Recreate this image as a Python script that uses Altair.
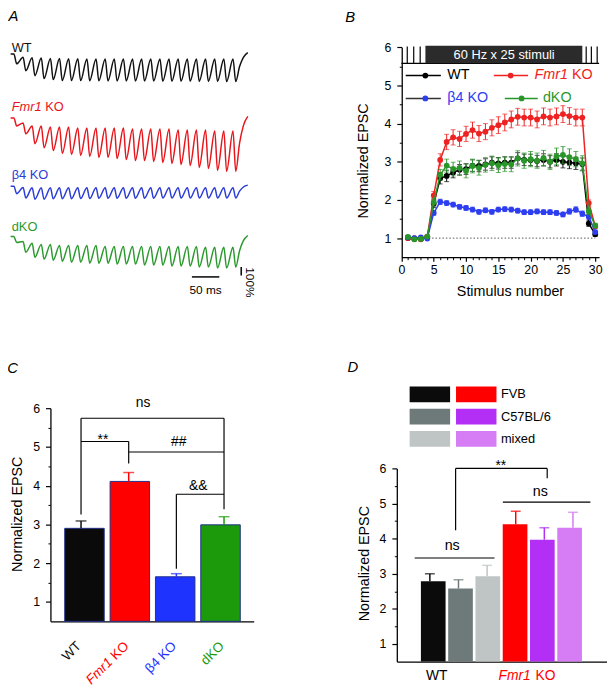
import altair as alt
import pandas as pd

W, H = 599, 671
FONT = "Liberation Sans"

# ================= Panel A : example EPSC trains (depth, % of first EPSC) =================
a_names = ["WT", "Fmr1 KO", "β4 KO", "dKO"]
a_colors = ["#111111", "#e8161c", "#2c3cd6", "#2b9a2e"]
a_stim_ms = [0, 16.7, 33.3, 50, 66.7, 83.3, 100, 116.7, 133.3, 150, 166.7, 183.3,
             200, 216.7, 233.3, 250, 266.7, 283.3, 300, 316.7, 333.3, 350, 366.7, 383.3, 400]
a_tail_ms = [412, 419, 427]
wt_peak = [0, 40, 45, 50, 55, 55, 58, 58, 60, 60, 60, 60, 60, 60, 60, 60, 60, 60, 60, 60, 60, 60, 60, 60, 60]
wt_trough = [118, 200, 259, 294, 306, 318, 318, 318, 320, 320, 322, 322, 322, 324, 324, 324, 326, 326,
             326, 326, 328, 328, 328, 330, 330]
wt_tail = [150, 40, -15]
fmr_peak = [0, 59, 94, 94, 106, 106, 106, 118, 118, 118, 118, 118, 118, 129, 129, 129, 129, 129,
            141, 141, 141, 141, 153, 153, 153]
fmr_trough = [94, 188, 306, 353, 388, 423, 435, 447, 459, 470, 470, 482, 494, 506, 506, 517, 529, 541,
              553, 565, 588, 600, 623, 635, 635]
fmr_tail = [300, 90, -20]
b4_peak = [0, 15, 20, 20, 20, 20, 20, 20, 20, 20, 20, 20, 20, 20, 20, 20, 20, 20, 20, 20, 20, 20, 20, 20, 20]
b4_trough = [90, 140, 155, 155, 150, 150, 150, 148, 148, 145, 145, 145, 145, 145, 145, 145, 142, 142,
             142, 142, 142, 142, 142, 142, 142]
b4_tail = [60, 10, -12]
dko_peak = [0, 59, 82, 94, 94, 106, 106, 106, 106, 106, 118, 118, 118, 118, 118, 118, 118, 118,
            118, 118, 118, 129, 129, 129, 129]
dko_trough = [71, 188, 247, 270, 282, 294, 306, 306, 318, 318, 318, 329, 329, 329, 341, 341, 341, 353,
              353, 353, 365, 365, 376, 376, 365]
dko_tail = [170, 50, -12]
a_label_v = [-20, -82, -82, -70]

# ================= Panel B : normalized EPSC vs stimulus number =================
b_names = ["WT", "Fmr1 KO", "β4 KO", "dKO"]
b_colors = ["#000000", "#ee2222", "#2d3df0", "#2a962a"]
b_stim = list(range(1, 31))
b_wt = [1.00, 0.98, 0.98, 1.02, 1.90, 2.57, 2.63, 2.72, 2.79, 2.81, 2.90, 2.89, 2.93, 2.98, 2.96,
        2.98, 2.98, 3.09, 3.05, 3.05, 3.02, 3.05, 3.00, 3.05, 3.00, 2.98, 2.96, 2.94, 1.38, 1.10]
b_wt_err = [0.03, 0.03, 0.03, 0.03, 0.10, 0.15, 0.15, 0.14, 0.14, 0.14, 0.15, 0.15, 0.15, 0.15, 0.15,
            0.15, 0.15, 0.15, 0.15, 0.15, 0.15, 0.16, 0.16, 0.16, 0.16, 0.16, 0.16, 0.16, 0.07, 0.05]
b_fmr = [1.00, 1.00, 0.97, 1.04, 2.12, 3.05, 3.52, 3.64, 3.60, 3.73, 3.83, 3.74, 3.79, 3.89, 3.96,
         4.03, 4.11, 4.18, 4.16, 4.16, 4.11, 4.19, 4.16, 4.19, 4.25, 4.20, 4.16, 4.16, 1.92, 1.31]
b_fmr_err = [0.03, 0.03, 0.03, 0.04, 0.10, 0.16, 0.20, 0.20, 0.20, 0.20, 0.21, 0.21, 0.21, 0.21, 0.22,
             0.22, 0.22, 0.22, 0.22, 0.22, 0.22, 0.22, 0.22, 0.22, 0.22, 0.22, 0.22, 0.22, 0.08, 0.06]
b_b4 = [1.02, 1.00, 1.02, 0.99, 1.66, 1.95, 1.92, 1.88, 1.82, 1.79, 1.75, 1.69, 1.73, 1.69, 1.75,
        1.76, 1.75, 1.72, 1.68, 1.68, 1.70, 1.68, 1.68, 1.66, 1.62, 1.70, 1.75, 1.64, 1.56, 1.16]
b_b4_err = [0.03, 0.03, 0.03, 0.03, 0.06, 0.07, 0.06, 0.06, 0.06, 0.06, 0.06, 0.06, 0.06, 0.06, 0.06,
            0.06, 0.06, 0.06, 0.06, 0.06, 0.06, 0.06, 0.06, 0.06, 0.06, 0.07, 0.07, 0.07, 0.06, 0.05]
b_dko = [1.03, 0.97, 0.98, 1.04, 1.94, 2.66, 2.90, 2.81, 2.84, 2.76, 2.89, 2.84, 2.92, 2.96, 2.91,
         2.94, 2.93, 3.09, 3.03, 3.07, 3.03, 3.10, 3.00, 3.14, 3.18, 3.12, 3.07, 2.96, 1.70, 1.33]
b_dko_err = [0.03, 0.03, 0.03, 0.03, 0.10, 0.14, 0.17, 0.18, 0.18, 0.18, 0.18, 0.19, 0.19, 0.19, 0.19,
             0.19, 0.19, 0.20, 0.20, 0.20, 0.20, 0.20, 0.20, 0.22, 0.22, 0.22, 0.20, 0.20, 0.08, 0.06]
b_train_label = "60 Hz x 25 stimuli"
b_train_x = [3.71, 28.0]
b_pulse_x = [0.9, 1.9, 2.9, 28.6, 29.4, 30.3]
b_leg_x1 = [0.66, 14.3, 0.66, 16.0]
b_leg_x2 = [6.1, 19.6, 6.1, 21.1]
b_leg_xm = [3.7, 16.9, 3.7, 18.6]
b_leg_xt = [7.1, 20.6, 7.1, 21.9]
b_leg_y = [5.26, 5.26, 4.66, 4.66]
b_leg_line = ["#000000", "#ee2222", "#333333", "#2a962a"]

# ================= Panel C : summary bars =================
c_groups = ["WT", "Fmr1 KO", "β4 KO", "dKO"]
c_mean = [2.90, 4.11, 1.65, 2.99]
c_err = [0.19, 0.23, 0.08, 0.21]
c_colors = ["#0a0a0a", "#ff0000", "#1f33ff", "#1c9a0c"]
c_seg_x1 = [0, 0, 3, 0, 1, 1, 2, 2]
c_seg_y1 = [3.26, 5.74, 5.74, 5.14, 5.14, 4.87, 3.78, 3.78]
c_seg_x2 = [0, 3, 3, 1, 1, 3, 3, 2]
c_seg_y2 = [5.74, 5.74, 3.39, 5.14, 4.57, 4.87, 3.78, 1.86]
c_sig_text = ["ns", "##", "&&"]
c_sig_x = [1.30, 2.05, 2.46]
c_sig_y = [6.13, 5.13, 3.99]
c_star_x, c_star_y = 0.46, 5.29

# ================= Panel D : strain comparison =================
d_strains = ["FVB", "C57BL/6", "mixed"]
d_geno = ["WT", "WT", "WT", "Fmr1 KO", "Fmr1 KO", "Fmr1 KO"]
d_keys = ["WT FVB", "WT C57BL/6", "WT mixed", "KO FVB", "KO C57BL/6", "KO mixed"]
d_mean = [2.79, 2.58, 2.93, 4.41, 3.97, 4.31]
d_err = [0.21, 0.25, 0.31, 0.37, 0.34, 0.44]
d_colors = ["#0b0b0b", "#6e7a79", "#bfc5c4", "#ff0000", "#b42ff5", "#d67cf4"]
d_seg_x1 = [-0.53, 2.55, 0.9, 0.9, 4.1]
d_seg_y1 = [3.45, 5.04, 4.24, 6.0, 6.0]
d_seg_x2 = [2.26, 5.61, 0.9, 4.1, 4.1]
d_seg_y2 = [3.45, 5.04, 6.0, 6.0, 5.72]
d_ns_x = [0.78, 3.86]
d_ns_y = [3.80, 5.33]
d_star_x, d_star_y = 2.48, 6.17


# ----------------------------------------------------------------------------
def S(domain, rng, **kw):
    return alt.Scale(domain=domain, range=rng, zero=False, nice=False, **kw)


AX = S([-10, 440], [0.45, 250.2])
a_base = [42, 107, 176, 227]
AY = [S([0, 700], [b, b + 59.5]) for b in a_base]
BX = S([0, 30.6], [398.7, 599.0])
BY = S([0.5, 6.0], [248.0, 35.3])
CX = S([-0.642, 3.623], [43, 249])
CY = S([0.5, 6.0], [617, 401])
DX = S([-1.155, 6.19], [394, 607])
DY = S([0.5, 6.0], [657.8, 462])

AXIS_COMMON = dict(domainColor="black", tickColor="black", labelColor="black", grid=False,
                   labelFont=FONT, titleFont=FONT, titleColor="black", titleFontWeight="normal",
                   labelFlush=False, domainWidth=1.3, tickWidth=1.2)


def y_major(offset, title, tx, ty):
    return alt.Axis(orient="left", offset=offset, values=[1, 2, 3, 4, 5, 6], tickSize=5,
                    labelFontSize=12.5, labelPadding=6, title=title, titleFontSize=14.5,
                    titleX=tx, titleY=ty, titleAngle=270, titleBaseline="middle", titleAlign="center",
                    **AXIS_COMMON)


def y_minor(offset):
    return alt.Axis(orient="left", offset=offset, values=[1.5, 2.5, 3.5, 4.5, 5.5], tickSize=2.5,
                    labels=False, domain=False, title=None, ticks=True, tickColor="black", grid=False,
                    tickWidth=1)


def x_domain_only(offset):
    return alt.Axis(orient="bottom", offset=offset, labels=False, ticks=False, title=None,
                    grid=False, domainColor="black", domainWidth=1.3)


def q(field, scale, axis=None):
    return dict(field=field, type="quantitative", scale=scale, axis=axis)


def xq(field, scale, axis=None):
    return alt.X(**q(field, scale, axis))


def yq(field, scale, axis=None):
    return alt.Y(**q(field, scale, axis))


def segs(x1, y1, x2, y2, sx, sy, color="black", width=1.2):
    df = pd.DataFrame({"x": x1, "y": y1, "x2": x2, "y2": y2})
    return alt.Chart(df).mark_rule(color=color, strokeWidth=width).encode(
        x=xq("x", sx), x2="x2:Q", y=yq("y", sy), y2="y2:Q")


def texts(xs, ys, ts, sx, sy, **mk):
    df = pd.DataFrame({"x": xs, "y": ys, "t": ts})
    return alt.Chart(df).mark_text(font=FONT, **mk).encode(
        x=xq("x", sx), y=yq("y", sy), text="t:N")


layers = []

# ---------------- Panel A ----------------
a_sets = [(wt_peak, wt_trough, wt_tail), (fmr_peak, fmr_trough, fmr_tail),
          (b4_peak, b4_trough, b4_tail), (dko_peak, dko_trough, dko_tail)]
for k, (pk, tr, tl) in enumerate(a_sets):
    ts, vs = [-6], [0]
    for s, p, t in zip(a_stim_ms, pk, tr):
        ts += [s, s + 5]
        vs += [p, t]
    ts += a_tail_ms
    vs += tl
    df = pd.DataFrame({"t": ts, "v": vs, "o": list(range(len(ts)))})
    layers.append(alt.Chart(df).mark_line(color=a_colors[k], strokeWidth=1.5, interpolate="monotone").encode(
        x=xq("t", AX), y=yq("v", AY[k]), order="o:Q"))

for k in [0, 2, 3]:
    layers.append(texts([-4], [a_label_v[k]], [a_names[k]], AX, AY[k], fontSize=13,
                        color=a_colors[k], align="left", baseline="alphabetic"))
layers.append(texts([-4], [a_label_v[1]], ["Fmr1"], AX, AY[1], fontSize=13, fontStyle="italic",
                    color=a_colors[1], align="left", baseline="alphabetic"))
layers.append(texts([-4], [a_label_v[1]], ["KO"], AX, AY[1], fontSize=13, dx=34,
                    color=a_colors[1], align="left", baseline="alphabetic"))
# scale bars (50 ms, 100 %)
layers.append(segs([325], [482], [375], [482], AX, AY[3], width=1.5))
layers.append(segs([415], [365], [415], [465], AX, AY[3], width=1.5))
layers.append(texts([350], [682], ["50 ms"], AX, AY[3], fontSize=12, color="black",
                    align="center", baseline="alphabetic"))
layers.append(texts([431], [547], ["100%"], AX, AY[3], fontSize=12, color="black",
                    align="center", baseline="middle", angle=90))
layers.append(texts([-10], [-390], ["A"], AX, AY[0], fontSize=15, fontStyle="italic",
                    color="black", align="left", baseline="alphabetic"))

# ---------------- Panel B ----------------
# stimulation train header
layers.append(segs([0], [5.58], [30.6], [5.58], BX, BY, width=1.2))
layers.append(segs(b_pulse_x, [5.58] * 6, b_pulse_x, [6.02] * 6, BX, BY, width=1.2))
layers.append(alt.Chart(pd.DataFrame({"x": [b_train_x[0]], "x2": [b_train_x[1]], "y": [5.58], "y2": [6.04]}))
              .mark_rect(color="#2b2b2b").encode(x=xq("x", BX), x2="x2:Q", y=yq("y", BY), y2="y2:Q"))
layers.append(texts([15.9], [5.81], [b_train_label], BX, BY, fontSize=13, color="white",
                    align="center", baseline="middle"))
# baseline at 1
layers.append(alt.Chart(pd.DataFrame({"x": [1], "x2": [30], "y": [1.0]})).mark_rule(
    color="#444444", strokeWidth=0.9, strokeDash=[1.5, 2]).encode(x=xq("x", BX), x2="x2:Q", y=yq("y", BY)))

b_series = [(b_wt, b_wt_err), (b_fmr, b_fmr_err), (b_b4, b_b4_err), (b_dko, b_dko_err)]
for k, (m, e) in enumerate(b_series):
    df = pd.DataFrame({"x": b_stim, "m": m, "lo": [a - b for a, b in zip(m, e)],
                       "hi": [a + b for a, b in zip(m, e)]})
    c = b_colors[k]
    if k == 0:
        ax_x = alt.Axis(orient="bottom", offset=-423, values=[0, 5, 10, 15, 20, 25, 30], tickSize=4,
                        labelFontSize=12.5, labelPadding=3, title="Stimulus number", titleFontSize=14.5,
                        titleX=508.7, titleY=39, titleBaseline="alphabetic", titleAlign="center",
                        titleAngle=0, **AXIS_COMMON)
        ax_y = y_major(-399, "Normalized EPSC", -38.5, 150)
        ax_x2 = alt.Axis(orient="bottom", offset=-423, values=[k2 for k2 in range(1, 31) if k2 % 5],
                         tickSize=2.5, labels=False, domain=False, title=None, grid=False,
                         tickColor="black", tickWidth=1)
        ax_y2 = y_minor(-399)
    else:
        ax_x = ax_y = ax_x2 = ax_y2 = None
    layers.append(alt.Chart(df).mark_rule(color=c, strokeWidth=1).encode(
        x=xq("x", BX, ax_x2), y=yq("lo", BY, ax_y2), y2="hi:Q"))
    layers.append(alt.Chart(df).transform_fold(["lo", "hi"], as_=["kk", "vv"]).mark_tick(
        orient="horizontal", size=5, thickness=1, color=c).encode(x=xq("x", BX), y=yq("vv", BY)))
    layers.append(alt.Chart(df).mark_line(color=c, strokeWidth=1.5).encode(
        x=xq("x", BX), y=yq("m", BY)))
    layers.append(alt.Chart(df).mark_circle(color=c, size=34, opacity=1).encode(
        x=xq("x", BX, ax_x), y=yq("m", BY, ax_y)))

# legend of panel B
for k in range(4):
    layers.append(segs([b_leg_x1[k]], [b_leg_y[k]], [b_leg_x2[k]], [b_leg_y[k]], BX, BY,
                       color=b_leg_line[k], width=1.5))
    layers.append(alt.Chart(pd.DataFrame({"x": [b_leg_xm[k]], "y": [b_leg_y[k]]})).mark_circle(
        color=b_colors[k], size=34, opacity=1).encode(x=xq("x", BX), y=yq("y", BY)))
for k in [0, 2, 3]:
    layers.append(texts([b_leg_xt[k]], [b_leg_y[k]], [b_names[k]], BX, BY, fontSize=14.5,
                        color=b_colors[k], align="left", baseline="middle"))
layers.append(texts([b_leg_xt[1]], [b_leg_y[1]], ["Fmr1"], BX, BY, fontSize=14.5, fontStyle="italic",
                    color=b_colors[1], align="left", baseline="middle"))
layers.append(texts([b_leg_xt[1]], [b_leg_y[1]], ["KO"], BX, BY, fontSize=14.5, dx=38,
                    color=b_colors[1], align="left", baseline="middle"))
layers.append(texts([-8.7], [6.67], ["B"], BX, BY, fontSize=15, fontStyle="italic",
                    color="black", align="left", baseline="alphabetic"))

# ---------------- Panel C ----------------
cdf = pd.DataFrame({"i": list(range(4)), "g": c_groups, "m": c_mean,
                    "hi": [a + b for a, b in zip(c_mean, c_err)]})
c_color = alt.Color("g:N", scale=alt.Scale(domain=c_groups, range=c_colors), legend=None)
layers.append(alt.Chart(cdf).mark_bar(size=40, stroke="#22308c", strokeWidth=1).encode(
    x=xq("i", CX, x_domain_only(-54)), y=yq("m", CY, y_major(-43, "Normalized EPSC", -33.5, 508)),
    y2=alt.datum(0.5), color=c_color))
layers.append(alt.Chart(cdf).mark_rule(strokeWidth=1.5).encode(
    x=xq("i", CX), y=yq("m", CY, y_minor(-43)), y2="hi:Q", color=c_color))
layers.append(alt.Chart(cdf).mark_tick(orient="horizontal", size=11, thickness=1.5).encode(
    x=xq("i", CX), y=yq("hi", CY), color=c_color))
layers.append(segs(c_seg_x1, c_seg_y1, c_seg_x2, c_seg_y2, CX, CY, width=1.2))
layers.append(texts(c_sig_x, c_sig_y, c_sig_text, CX, CY, fontSize=14, color="black",
                    align="center", baseline="middle"))
layers.append(texts([c_star_x], [c_star_y], ["**"], CX, CY, fontSize=14, color="black",
                    align="center", baseline="middle", dy=4))
# rotated category labels
for k in [0, 2, 3]:
    layers.append(texts([k], [0.5], [c_groups[k]], CX, CY, fontSize=13.5, color=c_colors[k],
                        align="right", baseline="middle", angle=315, dx=-17.7, dy=14.8))
layers.append(texts([1], [0.5], ["KO"], CX, CY, fontSize=13.5, color=c_colors[1],
                    align="right", baseline="middle", angle=315, dx=-17.7, dy=14.8))
layers.append(texts([1], [0.5], ["Fmr1"], CX, CY, fontSize=13.5, color=c_colors[1], fontStyle="italic",
                    align="right", baseline="middle", angle=315, dx=-41.0, dy=14.8))
layers.append(texts([-1.55], [6.92], ["C"], CX, CY, fontSize=15, fontStyle="italic",
                    color="black", align="left", baseline="alphabetic"))

# ---------------- Panel D ----------------
ddf = pd.DataFrame({"i": list(range(6)), "k": d_keys, "m": d_mean,
                    "hi": [a + b for a, b in zip(d_mean, d_err)]})
d_color = alt.Color("k:N", scale=alt.Scale(domain=d_keys, range=d_colors), legend=None)
layers.append(alt.Chart(ddf).mark_bar(size=25).encode(
    x=xq("i", DX, x_domain_only(-13.2)), y=yq("m", DY, y_major(-394, "Normalized EPSC", -33, 558)),
    y2=alt.datum(0.5), color=d_color))
layers.append(alt.Chart(ddf).mark_rule(strokeWidth=1.5).encode(
    x=xq("i", DX), y=yq("m", DY, y_minor(-394)), y2="hi:Q", color=d_color))
layers.append(alt.Chart(ddf).mark_tick(orient="horizontal", size=10, thickness=1.5).encode(
    x=xq("i", DX), y=yq("hi", DY), color=d_color))
layers.append(segs(d_seg_x1, d_seg_y1, d_seg_x2, d_seg_y2, DX, DY, width=1.2))
layers.append(texts(d_ns_x, d_ns_y, ["ns", "ns"], DX, DY, fontSize=14.5, color="black",
                    align="center", baseline="middle"))
layers.append(texts([d_star_x], [d_star_y], ["**"], DX, DY, fontSize=14, color="black",
                    align="center", baseline="middle", dy=4))
layers.append(texts([0.24], [0.5], ["WT"], DX, DY, fontSize=14, color="black",
                    align="center", baseline="alphabetic", dy=18.7))
layers.append(texts([2.40], [0.5], ["Fmr1"], DX, DY, fontSize=14, color="#ff0000", fontStyle="italic",
                    align="left", baseline="alphabetic", dy=18.7))
layers.append(texts([2.40], [0.5], ["KO"], DX, DY, fontSize=14, color="#ff0000",
                    align="left", baseline="alphabetic", dy=18.7, dx=37.5))
layers.append(texts([-2.88], [8.75], ["D"], DX, DY, fontSize=15, fontStyle="italic",
                    color="black", align="left", baseline="alphabetic"))
# legend swatches of panel D
leg = pd.DataFrame({"geno": d_geno, "strain": d_strains * 2, "k": d_keys})
layers.append(alt.Chart(leg).mark_rect().encode(
    x=alt.X("geno:N", scale=alt.Scale(domain=["WT", "Fmr1 KO"], range=[407, 495], paddingInner=0.128,
                                      paddingOuter=0), axis=None),
    y=alt.Y("strain:N", scale=alt.Scale(domain=d_strains, range=[379, 440], paddingInner=0.29,
                                        paddingOuter=0),
            axis=alt.Axis(orient="right", offset=-104, ticks=False, domain=False, labelPadding=4,
                          labelFont=FONT, labelFontSize=13, labelColor="black", title=None, grid=False)),
    color=d_color))

chart = alt.layer(*layers).resolve_scale(
    x="independent", y="independent", color="independent"
).resolve_axis(x="independent", y="independent").properties(
    width=W, height=H, autosize=alt.AutoSizeParams(type="none"),
    padding={"left": 0, "top": 0, "right": 8, "bottom": 8}
).configure_view(stroke=None)

chart.save("out.html", embed_options={"renderer": "svg", "actions": False})
